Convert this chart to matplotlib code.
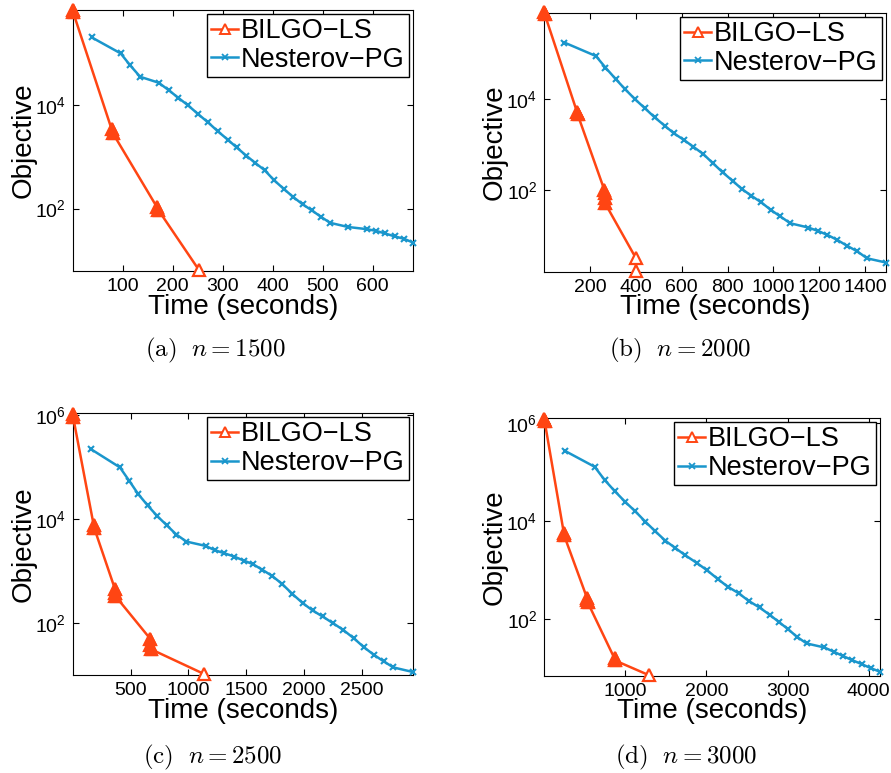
import numpy as np
import matplotlib
matplotlib.use("Agg")
import matplotlib.pyplot as plt
from matplotlib.ticker import FuncFormatter, NullLocator

plt.rcParams['font.family'] = ['Liberation Sans', 'DejaVu Sans']
plt.rcParams['mathtext.fontset'] = 'custom'
plt.rcParams['mathtext.rm'] = 'Liberation Sans'
plt.rcParams['mathtext.it'] = 'Liberation Sans:italic'
plt.rcParams['mathtext.bf'] = 'Liberation Sans:bold'

RED = '#ff4513'
BLUE = '#1a96cc'

# Data
# =========================
# (a) n = 1500
t_bilgo_a = [0, 1, 78, 80, 169, 171, 253]
v_bilgo_a = [6.9e5, 6.2e5, 3400, 2900, 105, 95, 6.4]
t_nest_a = [38, 96, 115, 135, 172, 192, 211, 231, 251, 271, 290, 310, 328, 347, 365,
            384, 403, 423, 441, 460, 478, 497, 515, 551, 588, 607, 625, 644, 663, 681]
v_nest_a = [2.04e5, 1.0e5, 5.87e4, 3.53e4, 2.71e4, 1.95e4, 1.39e4, 9860, 6690, 4620,
            3140, 2160, 1520, 1060, 766, 552, 353, 237, 168, 121, 93, 69, 53, 44, 40,
            37, 33, 29, 26, 22]

# (b) n = 2000
t_bilgo_b = [0, 2, 143, 145, 262, 263, 264, 265, 400, 400]
v_bilgo_b = [8.5e5, 7.5e5, 5200, 4700, 100, 84, 65, 51, 3.1, 1.66]
t_nest_b = [88, 225, 267, 311, 353, 396, 439, 481, 525, 565, 609, 651, 693, 736, 778,
            822, 862, 904, 947, 989, 1030, 1073, 1152, 1193, 1235, 1278, 1320, 1366,
            1408, 1491]
v_nest_b = [1.78e5, 9.0e4, 5.0e4, 2.81e4, 1.66e4, 1.0e4, 6330, 4010, 2620, 1780, 1270,
            889, 623, 387, 245, 158, 105, 74, 53, 36, 26, 18.4, 14.8, 12.5, 10.2, 7.9,
            5.9, 4.4, 3.1, 2.5]

# (c) n = 2500
t_bilgo_c = [0, 3, 182, 185, 366, 368, 370, 670, 672, 674, 1138]
v_bilgo_c = [1.05e6, 9.5e5, 7600, 6900, 450, 380, 330, 50, 38, 31.6, 10.4]
t_nest_c = [161, 408, 489, 566, 647, 730, 813, 897, 983, 1149, 1230, 1310, 1397, 1480,
            1560, 1641, 1724, 1810, 1899, 1989, 2075, 2161, 2250, 2339, 2431, 2517,
            2603, 2690, 2773, 2943]
v_nest_c = [2.22e5, 1.0e5, 5.5e4, 3.07e4, 1.86e4, 1.16e4, 7670, 5070, 3720, 3070, 2530,
            2220, 1910, 1600, 1360, 1060, 813, 570, 366, 243, 175, 134, 100, 74, 51,
            34.5, 24.6, 18.3, 14.0, 11.4]

# (d) n = 3000
t_bilgo_d = [0, 3, 241, 243, 529, 531, 533, 866, 868, 1288]
v_bilgo_d = [1.2e6, 1.1e6, 5600, 5100, 260, 240, 220, 15.5, 14.2, 7.1]
t_nest_d = [251, 621, 745, 868, 996, 1123, 1247, 1370, 1494, 1617, 1741, 1877, 2004,
            2136, 2263, 2395, 2523, 2654, 2778, 2893, 3008, 3115, 3235, 3453, 3572,
            3687, 3798, 3914, 4029, 4140]
v_nest_d = [2.68e5, 1.26e5, 6.76e4, 4.03e4, 2.44e4, 1.55e4, 9540, 6060, 3900, 2770,
            1960, 1390, 985, 655, 450, 334, 230, 170, 121, 86, 61, 43, 31.4, 26, 21.2,
            17.3, 14.3, 11.9, 9.8, 8.3]

xticks_a = [100, 200, 300, 400, 500, 600]
xticks_b = [200, 400, 600, 800, 1000, 1200, 1400]
xticks_c = [500, 1000, 1500, 2000, 2500]
xticks_d = [1000, 2000, 3000, 4000]
yticks_ab = [1e2, 1e4]
yticks_cd = [1e2, 1e4, 1e6]

W, H = 891, 773
fig = plt.figure(figsize=(W / 100, H / 100), dpi=100)


def pow10(v, pos):
    return r'$\mathregular{10^{%d}}$' % int(round(np.log10(v)))


# Drawing one panel
# =========================
def draw_panel(box, t_b, v_b, t_n, v_n, xlim, ylim, xticks, yticks, caption, cap_xy):
    left, top, right, bottom = box
    ax = fig.add_axes([left / W, 1 - bottom / H, (right - left) / W, (bottom - top) / H])

    ax.plot(t_n, v_n, color=BLUE, lw=1.8, marker='x', ms=5, mew=1.5, clip_on=False,
            zorder=3)
    ax.plot(t_b, v_b, color=RED, lw=1.8, marker='^', ms=9, mew=1.6, mfc='white',
            clip_on=False, zorder=4)

    # several iterations stacked on one spot look like a filled triangle
    tb = np.array(t_b, float)
    lb = np.log10(v_b)
    close = (np.abs(np.diff(tb)) < 0.015 * xlim[1]) & (np.abs(np.diff(lb)) < 0.15)
    stacked = np.zeros(len(tb), bool)
    stacked[:-1] |= close
    stacked[1:] |= close
    ax.plot(tb[stacked], np.array(v_b)[stacked], ls='none', marker='^', ms=9,
            color=RED, clip_on=False, zorder=5)

    ax.set_yscale('log')
    ax.set_xlim(*xlim)
    ax.set_ylim(*ylim)
    ax.set_xticks(xticks)
    ax.set_yticks(yticks)
    ax.yaxis.set_major_formatter(FuncFormatter(pow10))
    ax.yaxis.set_minor_locator(NullLocator())
    ax.xaxis.set_minor_locator(NullLocator())
    ax.tick_params(direction='in', top=True, right=True, length=4, width=0.8,
                   labelsize=14, pad=5)
    for s in ax.spines.values():
        s.set_linewidth(0.8)

    ax.set_xlabel('Time (seconds)', fontsize=20, labelpad=-1)
    ax.set_ylabel('Objective', fontsize=20, labelpad=-1)

    h_b, = ax.plot([], [], color=RED, lw=1.8, marker='^', ms=7, mew=1.4, mfc='white')
    h_n, = ax.plot([], [], color=BLUE, lw=1.8, marker='x', ms=4, mew=1.3)
    leg = ax.legend([h_b, h_n], ['BILGO\u2212LS', 'Nesterov\u2212PG'], loc='upper right',
                    fontsize=19.5, fancybox=False, framealpha=1, edgecolor='black',
                    borderaxespad=0.15, borderpad=0.15, labelspacing=0.1,
                    handlelength=1.0, handletextpad=0.1, numpoints=1)
    leg.get_frame().set_linewidth(1.0)

    fig.text(cap_xy[0] / W, 1 - cap_xy[1] / H, caption, ha='center', va='center',
             fontsize=18, math_fontfamily='cm')
    return ax


draw_panel((72.7, 10, 413, 271), t_bilgo_a, v_bilgo_a, t_nest_a, v_nest_a,
           (0, 681), (6.2, 6.9e5), xticks_a, yticks_ab, r'$\mathrm{(a)}\ \ n = 1500$',
           (215, 350))
draw_panel((544.3, 13, 886, 271.7), t_bilgo_b, v_bilgo_b, t_nest_b, v_nest_b,
           (0, 1491), (1.57, 8.0e5), xticks_b, yticks_ab, r'$\mathrm{(b)}\ \ n = 2000$',
           (680, 350))
draw_panel((72.7, 413.3, 413, 675), t_bilgo_c, v_bilgo_c, t_nest_c, v_nest_c,
           (0, 2943), (10, 1.1e6), xticks_c, yticks_cd, r'$\mathrm{(c)}\ \ n = 2500$',
           (213, 757))
draw_panel((544.3, 418.3, 880, 675.7), t_bilgo_d, v_bilgo_d, t_nest_d, v_nest_d,
           (0, 4140), (6.9, 1.23e6), xticks_d, yticks_cd, r'$\mathrm{(d)}\ \ n = 3000$',
           (686, 757))

fig.savefig('out.png', dpi=100)
